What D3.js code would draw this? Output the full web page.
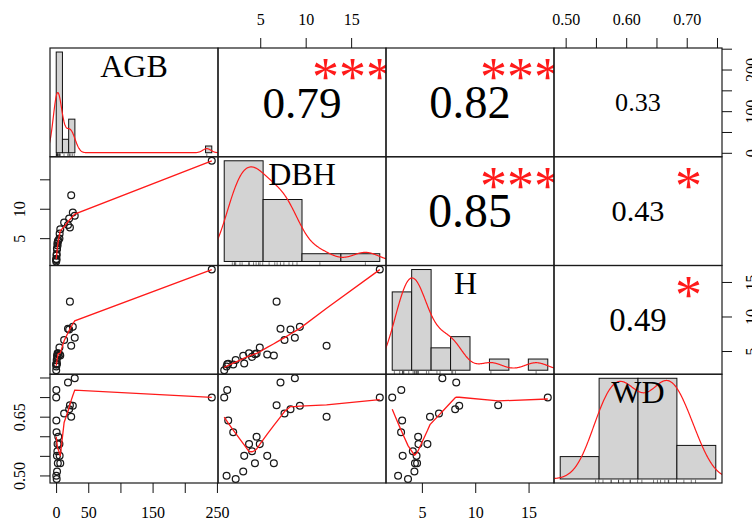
<!DOCTYPE html>
<html>
<head>
<meta charset="utf-8">
<script src="https://cdn.jsdelivr.net/npm/d3@7"></script>
<style>
  html, body { margin: 0; padding: 0; background: #fff; }
  svg { display: block; }
  text { font-family: "Liberation Serif", "Times New Roman", serif; fill: #000; }
</style>
</head>
<body>
<svg id="chart" width="752" height="524"></svg>
<script>
// ---- data: one entry per tree ----
const varNames = ["AGB", "DBH", "H", "WD"];
const AGB = [0.4, 0.2, 242, 29, 18.5, 21.5, 26, 20.3, 12.5, 23.5, 0.4, 0.7, 3.4, 2.3, 5.2, 2.0, 1.3, 5.5, 2.7, 6.5, 1.5, 0.3, 0.9];
const DBH = [1.37, 1.04, 18.15, 8.81, 7.23, 6.8, 9.36, 8.33, 7.67, 12.3, 1.48, 2.03, 4.6, 3.77, 4.95, 4.1, 3.24, 5.77, 4.42, 6.5, 3.13, 1.3, 2.3];
const H   = [3.07, 2.22, 16.8, 6.92, 8.22, 12.15, 8.5, 8.12, 6.6, 5.76, 3.15, 3.05, 4.65, 4.68, 5.52, 4.15, 3.2, 4.5, 4.55, 4.35, 4.3, 2.77, 3.7];
const WD  = [0.718, 0.699, 0.699, 0.748, 0.737, 0.679, 0.678, 0.669, 0.658, 0.650, 0.640, 0.610, 0.599, 0.580, 0.580, 0.562, 0.550, 0.550, 0.531, 0.531, 0.510, 0.499, 0.491];

// histogram break points
const agbBreaks = [0, 10, 20, 30, 40, 50, 60, 70, 80, 90, 100, 110, 120, 130, 140, 150, 160, 170, 180, 190, 200, 210, 220, 230, 240, 250];
const dbhBreaks = [0, 5, 10, 15, 20];
const hBreaks   = [2, 4, 6, 8, 10, 12, 14, 16, 18];
const wdBreaks  = [0.4, 0.5, 0.6, 0.7, 0.8];

// upper panels: correlation coefficient and significance stars
const corPairs  = [[0, 1], [0, 2], [0, 3], [1, 2], [1, 3], [2, 3]];
const corValues = [0.79, 0.82, 0.33, 0.85, 0.43, 0.49];
const corStars  = ["***", "***", "", "***", "*", "*"];

// axis ticks and labels
const agbTicks = [0, 50, 100, 150, 200, 250];
const agbBottomLabels = ["0", "50", "", "150", "", "250"];
const agbRightLabels  = ["0", "", "100", "", "200", ""];
const dbhTicks = [5, 10, 15];
const dbhTopLabels  = ["5", "10", "15"];
const dbhLeftLabels = ["5", "10", ""];
const hTicks = [5, 10, 15];
const hLabels = ["5", "10", "15"];
const wdTicks = [0.50, 0.55, 0.60, 0.65, 0.70, 0.75];
const wdTopLabels  = ["0.50", "", "0.60", "", "0.70", ""];
const wdLeftLabels = ["0.50", "", "", "0.65", "", ""];

// ---- layout ----
const series = [AGB, DBH, H, WD];
const breaksList = [agbBreaks, dbhBreaks, hBreaks, wdBreaks];
const x0 = 50, y0 = 48, pw = 168, ph = 108.75;
const svg = d3.select("#chart");
const RED = "#ff1a1a";

const px = j => x0 + j * pw;
const py = i => y0 + i * ph;

// pairs-style scales: data range padded by 4%
function padded(ext) {
  const r = ext[1] - ext[0];
  return [ext[0] - 0.04 * r, ext[1] + 0.04 * r];
}
const xScales = series.map((v, j) => d3.scaleLinear().domain(padded(d3.extent(v))).range([px(j), px(j) + pw]));
const yScales = series.map((v, i) => d3.scaleLinear().domain(padded(d3.extent(v))).range([py(i) + ph, py(i)]));

// ---- statistics ----
function histDensity(values, breaks) {
  const n = values.length;
  const counts = new Array(breaks.length - 1).fill(0);
  for (const v of values) {
    for (let k = 0; k < breaks.length - 1; k++) {
      const lo = breaks[k], hi = breaks[k + 1];
      if ((v > lo || (k === 0 && v >= lo)) && v <= hi) { counts[k]++; break; }
    }
  }
  return counts.map((c, k) => c / (n * (breaks[k + 1] - breaks[k])));
}

function kernelDensity(values) {
  const n = values.length;
  const sorted = values.slice().sort(d3.ascending);
  const sd = d3.deviation(values);
  const iqr = d3.quantileSorted(sorted, 0.75) - d3.quantileSorted(sorted, 0.25);
  const bw = 0.9 * Math.min(sd, iqr / 1.34) * Math.pow(n, -0.2);
  const from = sorted[0] - 3 * bw, to = sorted[n - 1] + 3 * bw;
  const pts = [];
  for (let k = 0; k < 512; k++) {
    const t = from + (to - from) * k / 511;
    let s = 0;
    for (const v of values) s += Math.exp(-0.5 * ((t - v) / bw) ** 2);
    pts.push([t, s / (n * bw * Math.sqrt(2 * Math.PI))]);
  }
  return pts;
}

// locally weighted scatterplot smoothing (Cleveland's lowess)
function lowess(xIn, yIn, f = 2 / 3, nsteps = 3) {
  const order = d3.range(xIn.length).sort((a, b) => xIn[a] - xIn[b]);
  const x = order.map(k => xIn[k]), y = order.map(k => yIn[k]);
  const n = x.length;
  const delta = 0.01 * (x[n - 1] - x[0]);
  const ys = new Array(n).fill(0), rw = new Array(n).fill(1), res = new Array(n).fill(0);
  const ns = Math.max(2, Math.min(n, Math.floor(f * n + 1e-7)));
  const range = x[n - 1] - x[0];

  function lowest(xs, nleft, nright, userw) {
    const w = res;
    const h = Math.max(xs - x[nleft], x[nright] - xs);
    const h9 = 0.999 * h, h1 = 0.001 * h;
    let a = 0, j = nleft;
    while (j < n) {
      w[j] = 0;
      const r = Math.abs(x[j] - xs);
      if (r <= h9) {
        w[j] = r <= h1 ? 1 : Math.pow(1 - Math.pow(r / h, 3), 3);
        if (userw) w[j] *= rw[j];
        a += w[j];
      } else if (x[j] > xs) break;
      j++;
    }
    const nrt = j - 1;
    if (a <= 0) return null;
    for (j = nleft; j <= nrt; j++) w[j] /= a;
    if (h > 0) {
      a = 0;
      for (j = nleft; j <= nrt; j++) a += w[j] * x[j];
      let b = xs - a, c = 0;
      for (j = nleft; j <= nrt; j++) c += w[j] * (x[j] - a) * (x[j] - a);
      if (Math.sqrt(c) > 0.001 * range) {
        b /= c;
        for (j = nleft; j <= nrt; j++) w[j] *= (b * (x[j] - a) + 1);
      }
    }
    let s = 0;
    for (j = nleft; j <= nrt; j++) s += w[j] * y[j];
    return s;
  }

  let iter = 1;
  while (iter <= nsteps + 1) {
    let nleft = 0, nright = ns - 1, last = -1, i = 0;
    for (;;) {
      if (nright < n - 1) {
        const d1 = x[i] - x[nleft], d2 = x[nright + 1] - x[i];
        if (d1 > d2) { nleft++; nright++; continue; }
      }
      const v = lowest(x[i], nleft, nright, iter > 1);
      ys[i] = v === null ? y[i] : v;
      if (last < i - 1) {
        const denom = x[i] - x[last];
        for (let j = last + 1; j < i; j++) {
          const alpha = (x[j] - x[last]) / denom;
          ys[j] = alpha * ys[i] + (1 - alpha) * ys[last];
        }
      }
      last = i;
      const cut = x[last] + delta;
      for (i = last + 1; i < n; i++) {
        if (x[i] > cut) break;
        if (x[i] === x[last]) { ys[i] = ys[last]; last = i; }
      }
      i = Math.max(last + 1, i - 1);
      if (last >= n - 1) break;
    }
    for (let k = 0; k < n; k++) res[k] = y[k] - ys[k];
    const sc = d3.sum(res, Math.abs) / n;
    if (iter > nsteps) break;
    const sorted = res.map(Math.abs).sort((a, b) => a - b);
    const m1 = Math.floor(n / 2);
    const cmad = n % 2 === 0 ? 3 * (sorted[m1] + sorted[n - m1 - 1]) : 6 * sorted[m1];
    if (cmad < 1e-7 * sc) break;
    const c9 = 0.999 * cmad, c1 = 0.001 * cmad;
    for (let k = 0; k < n; k++) {
      const r = Math.abs(res[k]);
      rw[k] = r <= c1 ? 1 : r <= c9 ? Math.pow(1 - Math.pow(r / cmad, 2), 2) : 0;
    }
    iter++;
  }
  return x.map((xv, k) => [xv, ys[k]]);
}

// ---- panels ----
const defs = svg.append("defs");
const n = varNames.length;

for (let i = 0; i < n; i++) {
  for (let j = 0; j < n; j++) {
    const id = `clip-${i}-${j}`;
    defs.append("clipPath").attr("id", id)
      .append("rect").attr("x", px(j)).attr("y", py(i)).attr("width", pw).attr("height", ph);
    const g = svg.append("g").attr("clip-path", `url(#${id})`);
    const cx = px(j) + pw / 2;

    if (i === j) {
      // diagonal: histogram, density curve, rug, variable name
      const vals = series[i], br = breaksList[i];
      const dens = histDensity(vals, br);
      const maxD = d3.max(dens);
      const bSpan = br[br.length - 1] - br[0];
      const hx = d3.scaleLinear().domain([br[0] - 0.04 * bSpan, br[br.length - 1] + 0.04 * bSpan]).range([px(j), px(j) + pw]);
      const hy = d3.scaleLinear().domain([-0.04 * maxD, 1.04 * maxD]).range([py(i) + ph, py(i)]);
      g.selectAll("rect.bar").data(dens).join("rect").attr("class", "bar")
        .attr("x", (d, k) => hx(br[k]))
        .attr("width", (d, k) => hx(br[k + 1]) - hx(br[k]))
        .attr("y", d => hy(d))
        .attr("height", d => hy(0) - hy(d))
        .attr("fill", "#d3d3d3").attr("stroke", "#111").attr("stroke-width", 1);
      g.append("path").datum(kernelDensity(vals))
        .attr("d", d3.line().x(d => hx(d[0])).y(d => hy(d[1])))
        .attr("fill", "none").attr("stroke", RED).attr("stroke-width", 1.2);
      g.selectAll("line.rug").data(vals).join("line").attr("class", "rug")
        .attr("x1", d => hx(d)).attr("x2", d => hx(d))
        .attr("y1", py(i) + ph).attr("y2", py(i) + ph - 0.03 * ph)
        .attr("stroke", "#222").attr("stroke-width", 0.6);
      const fs = 32;
      const cy = py(i) + ph * (1 - 0.8333);
      const name = varNames[i];
      const t = g.append("text").attr("font-size", fs).attr("y", cy + 0.331 * fs);
      if (name === "H") {
        t.attr("x", cx - 16).attr("text-anchor", "start").text(name);
      } else {
        t.attr("x", cx).attr("text-anchor", "middle").text(name);
      }
    } else if (i > j) {
      // lower: scatter with lowess smooth
      const xs = xScales[j], ysc = yScales[i];
      const xv = series[j], yv = series[i];
      g.selectAll("circle").data(xv).join("circle")
        .attr("cx", d => xs(d)).attr("cy", (d, k) => ysc(yv[k])).attr("r", 3.4)
        .attr("fill", "none").attr("stroke", "#1a1a1a").attr("stroke-width", 1.25);
      g.append("path").datum(lowess(xv, yv))
        .attr("d", d3.line().x(d => xs(d[0])).y(d => ysc(d[1])))
        .attr("fill", "none").attr("stroke", RED).attr("stroke-width", 1.3);
    } else {
      // upper: correlation value sized by |r|, plus significance stars
      const k = corPairs.findIndex(p => p[0] === i && p[1] === j);
      const r = corValues[k];
      const base = 54;
      const fs = base * (Math.abs(r) + 0.3) / 1.3;
      const cy = py(i) + ph / 2;
      g.append("text").attr("x", cx).attr("y", cy + 0.338 * fs)
        .attr("text-anchor", "middle").attr("font-size", fs).text(r.toFixed(2));
      if (corStars[k]) {
        g.append("text").attr("x", px(j) + 0.8 * pw).attr("y", py(i) + 0.2 * ph + 0.47 * base)
          .attr("text-anchor", "middle").attr("font-size", base)
          .style("fill", RED).text(corStars[k]);
      }
    }

    svg.append("rect").attr("x", px(j)).attr("y", py(i)).attr("width", pw).attr("height", ph)
      .attr("fill", "none").attr("stroke", "#1a1a1a").attr("stroke-width", 1.2);
  }
}

// ---- axes ----
const axisSpecs = [
  { side: "bottom", idx: 0, ticks: agbTicks, labels: agbBottomLabels },
  { side: "bottom", idx: 2, ticks: hTicks, labels: hLabels },
  { side: "top", idx: 1, ticks: dbhTicks, labels: dbhTopLabels },
  { side: "top", idx: 3, ticks: wdTicks, labels: wdTopLabels },
  { side: "left", idx: 1, ticks: dbhTicks, labels: dbhLeftLabels },
  { side: "left", idx: 3, ticks: wdTicks, labels: wdLeftLabels },
  { side: "right", idx: 0, ticks: agbTicks, labels: agbRightLabels },
  { side: "right", idx: 2, ticks: hTicks, labels: hLabels }
];
const afs = 16;
for (const a of axisSpecs) {
  const fmt = (d, k) => a.labels[k];
  let axis, g;
  if (a.side === "bottom") {
    axis = d3.axisBottom(xScales[a.idx]);
    g = svg.append("g").attr("transform", `translate(0,${y0 + n * ph})`);
  } else if (a.side === "top") {
    axis = d3.axisTop(xScales[a.idx]);
    g = svg.append("g").attr("transform", `translate(0,${y0})`);
  } else if (a.side === "left") {
    axis = d3.axisLeft(yScales[a.idx]);
    g = svg.append("g").attr("transform", `translate(${x0},0)`);
  } else {
    axis = d3.axisRight(yScales[a.idx]);
    g = svg.append("g").attr("transform", `translate(${x0 + n * pw},0)`);
  }
  axis.tickValues(a.ticks).tickFormat(fmt).tickSize(10).tickSizeOuter(0);
  g.call(axis);
  g.select(".domain").remove();
  g.attr("font-family", null).attr("font-size", null);
  g.selectAll(".tick line").attr("stroke", "#111").attr("stroke-width", 1);
  const txt = g.selectAll(".tick text").attr("font-size", afs).attr("dy", null).attr("fill", null);
  if (a.side === "top") {
    txt.attr("y", -(28.5 - 0.338 * afs));
  } else if (a.side === "bottom") {
    txt.attr("y", 30 + 0.338 * afs);
  } else {
    const off = a.side === "left" ? -30 + 0.338 * afs : 30 + 0.338 * afs;
    txt.attr("x", null).attr("y", null).attr("text-anchor", "middle")
      .attr("transform", `translate(${off},0) rotate(-90)`);
  }
}
</script>
</body>
</html>
